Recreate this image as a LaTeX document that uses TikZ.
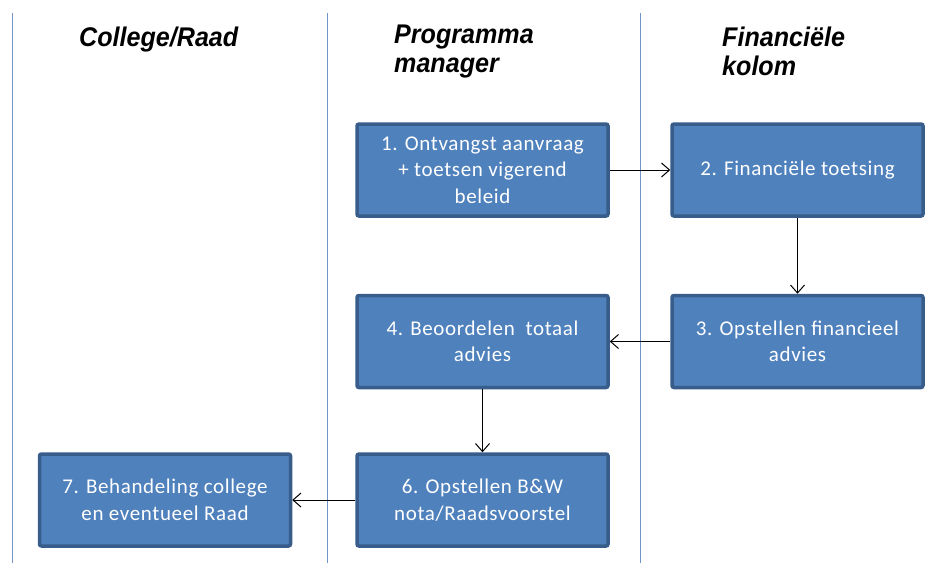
\documentclass[tikz,border=0pt]{standalone}
\usepackage{fontspec}
\usetikzlibrary{arrows.meta}
\newfontfamily\lanefont[FakeStretch=0.93]{Liberation Sans}
\newfontfamily\boxfont[LetterSpace=3]{Carlito}
\definecolor{boxfill}{HTML}{4F81BD}
\definecolor{boxline}{HTML}{385D8A}
\definecolor{laneline}{HTML}{6F95C8}
\tikzset{
  stapbox/.style={draw=boxline,fill=boxfill,line width=3.5pt,rounded corners=2pt,
    minimum width=251pt,minimum height=92pt,inner sep=0pt,align=center,
    text=white,font=\boxfont\fontsize{21}{26.5}\selectfont},
  lanehead/.style={anchor=north west,align=left,inner sep=0pt,
    font=\lanefont\bfseries\itshape\fontsize{27}{29}\selectfont},
  stapline/.style={-{Straight Barb[length=8pt,width=14pt]},line width=1pt}
}
\begin{document}
\begin{tikzpicture}[x=1pt,y=-1pt]
\useasboundingbox (0,0) rectangle (944,563);
% swimlanes
\draw[laneline,line width=1pt] (12,13) -- (12,563);
\draw[laneline,line width=1pt] (327,13) -- (327,563);
\draw[laneline,line width=1pt] (640,13) -- (640,563);
\node[lanehead] (hcol) at (79,27) {College/Raad};
\node[lanehead] (hpm) at (394,25) {Programma\\manager};
\node[lanehead] (hfin) at (722,27) {Financiële\\kolom};
% stappen
\node[stapbox] (s1) at (482.5,170) {1. Ontvangst aanvraag\\+ toetsen vigerend\\beleid};
\node[stapbox] (s2) at (797.5,170) {2. Financiële toetsing};
\node[stapbox] (s3) at (797.5,341.5) {3. Opstellen financieel\\advies};
\node[stapbox] (s4) at (482.5,341.5) {4. Beoordelen\ \ totaal\\advies};
\node[stapbox] (s6) at (482.5,500) {6. Opstellen B\&W\\nota/Raadsvoorstel};
\node[stapbox] (s7) at (165,500) {7. Behandeling college\\en eventueel Raad};
% pijlen
\draw[stapline] (s1) -- (s2);
\draw[stapline] (s2) -- (s3);
\draw[stapline] (s3) -- (s4);
\draw[stapline] (s4) -- (s6);
\draw[stapline] (s6) -- (s7);
\end{tikzpicture}
\end{document}
